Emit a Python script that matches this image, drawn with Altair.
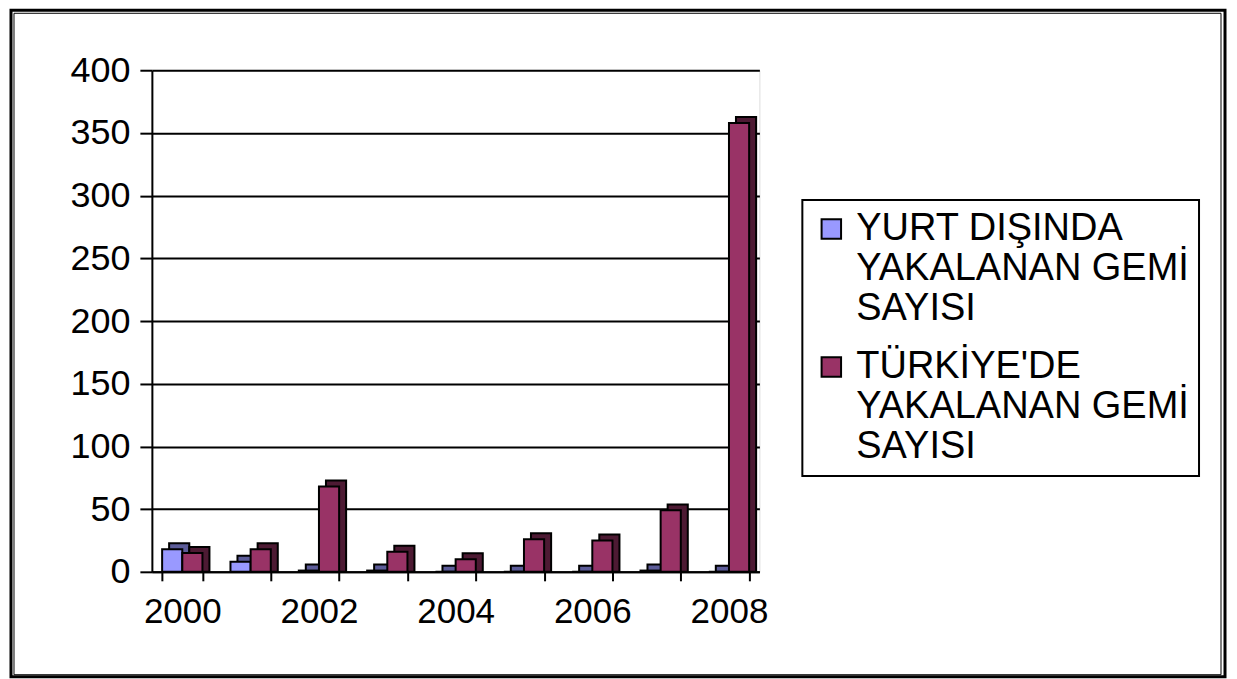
import altair as alt
import pandas as pd

years = ["2000", "2001", "2002", "2003", "2004", "2005", "2006", "2007", "2008"]
series_names = ["YURT DIŞINDA YAKALANAN GEMİ SAYISI", "TÜRKİYE'DE YAKALANAN GEMİ SAYISI"]
yurt_disinda = [18, 8, 1, 1, 0, 0, 0, 1, 0]
turkiyede = [15, 18, 68, 16, 10, 26, 25, 49, 358]
colors = ["#9999FF", "#993366"]
side_colors = ["#5c5c99", "#4d1a33"]

rows = []
for i, y in enumerate(years):
    rows.append({"yil": y, "seri": series_names[0], "deger": yurt_disinda[i]})
    rows.append({"yil": y, "seri": series_names[1], "deger": turkiyede[i]})
df = pd.DataFrame(rows)

FONT = "Liberation Sans"
W, H = 608, 502
P_IN, P_OUT = 0.41, 0.15
step = W / (len(years) - P_IN + 2 * P_OUT)
bw = step * (1 - P_IN)
DEPTH_X, DEPTH_Y = 7, -6

label_expr = (
    "datum.value == '" + series_names[0] + "' ? ['YURT DIŞINDA', 'YAKALANAN GEMİ', 'SAYISI'] : "
    "['TÜRKİYE\\'DE', 'YAKALANAN GEMİ', 'SAYISI']"
)

x_enc = alt.X("yil:N", sort=years, title=None,
              scale=alt.Scale(paddingInner=P_IN, paddingOuter=P_OUT),
              axis=alt.Axis(labelAngle=0, tickBand="extent",
                            labelExpr="toNumber(datum.value) % 2 == 0 ? datum.value : ''",
                            labelFont=FONT, labelFontSize=35, labelColor="black",
                            labelPadding=14, tickColor="black", tickSize=9, tickWidth=2,
                            domainColor="black", domainWidth=2, grid=False))
y_enc = alt.Y("deger:Q", title=None,
              scale=alt.Scale(domain=[0, 400], nice=False),
              axis=alt.Axis(values=list(range(0, 401, 50)), labelFont=FONT, labelFontSize=36,
                            labelColor="black", labelPadding=10, tickColor="black", tickSize=12,
                            tickWidth=2, domainColor="black", domainWidth=2,
                            grid=True, gridColor="black", gridWidth=2))

side = alt.Chart(df).mark_bar(stroke="black", strokeWidth=2, yOffset=DEPTH_Y).encode(
    x=x_enc,
    xOffset=alt.XOffset("seri:N", sort=series_names,
                        scale=alt.Scale(range=[DEPTH_X, DEPTH_X + bw])),
    y=y_enc,
    y2=alt.value(H - DEPTH_Y),
    color=alt.Color("seri:N", sort=series_names,
                    scale=alt.Scale(domain=series_names, range=side_colors), legend=None),
)

bars = alt.Chart(df).mark_bar(stroke="black", strokeWidth=2).encode(
    x=x_enc,
    xOffset=alt.XOffset("seri:N", sort=series_names, scale=alt.Scale(range=[0, bw])),
    y=y_enc,
    color=alt.Color("seri:N", sort=series_names,
                    scale=alt.Scale(domain=series_names, range=colors),
                    legend=alt.Legend(title=None, orient="none", legendX=651, legendY=130,
                                      symbolType="square", symbolSize=380,
                                      symbolStrokeColor="black", symbolStrokeWidth=2,
                                      labelFont=FONT, labelFontSize=38, labelColor="black",
                                      labelExpr=label_expr, labelLimit=420, labelOffset=6,
                                      rowPadding=20, padding=10,
                                      strokeColor="black",
                                      fillColor="white")),
)

frame_outer = alt.Chart(pd.DataFrame({"f": [0]})).mark_rect(
    fill=None, stroke="black", strokeWidth=3
).encode(
    x=alt.value(-141), x2=alt.value(1074), y=alt.value(-60), y2=alt.value(607)
)
frame_inner = alt.Chart(pd.DataFrame({"f": [0]})).mark_rect(
    fill=None, stroke="black", strokeWidth=1
).encode(
    x=alt.value(-138), x2=alt.value(1070), y=alt.value(-57), y2=alt.value(605)
)

chart = alt.layer(frame_outer, frame_inner, side, bars).resolve_scale(
    color="independent", xOffset="independent"
).properties(
    width=W, height=H,
    autosize=alt.AutoSizeParams(type="none"),
    padding={"left": 144, "top": 62, "right": 470, "bottom": 115},
).configure_view(stroke="black", strokeWidth=2).configure(background="white"
).configure_legend(strokeWidth=2)

chart.save("out.html", embed_options={"renderer": "svg", "actions": False})
